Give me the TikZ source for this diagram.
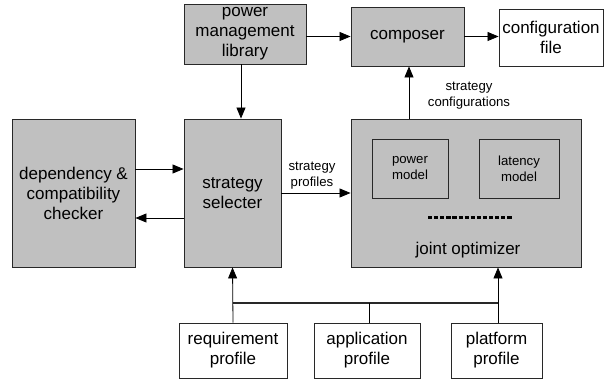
\documentclass[tikz,border=0pt]{standalone}
\usepackage{fontspec}
\setmainfont{Liberation Sans}
\usetikzlibrary{arrows.meta}
\definecolor{boxgray}{RGB}{192,192,192}
\definecolor{edgegray}{RGB}{40,40,40}
\tikzset{
  blk/.style={draw=edgegray, line width=0.9pt, fill=boxgray, inner sep=0pt, align=center, font=\fontsize{17}{20}\selectfont},
  wht/.style={blk, fill=white},
  inner/.style={blk, font=\fontsize{13.2}{16}\selectfont},
  lbl/.style={align=center, inner sep=0pt, font=\fontsize{13.2}{16}\selectfont},
  arr/.style={draw=black, line width=0.8pt, -{Triangle[length=11pt,width=9pt]}},
  ln/.style={draw=black, line width=0.8pt},
  bus/.style={draw=edgegray, line width=2pt},
}
\begin{document}
\begin{tikzpicture}[x=1pt,y=-1pt]
\useasboundingbox (0,0) rectangle (613,379);
% boxes (centre, size)
\node[blk, minimum width=122pt, minimum height=60pt] (pml) at (245,34) {power\\management\\library};
\node[blk, minimum width=113pt, minimum height=59pt] (comp) at (407.5,36.5) {composer};
\node[wht, minimum width=104pt, minimum height=57pt] (cfg) at (551,37.5) {configuration\\file};
\node[blk, minimum width=123pt, minimum height=148pt] (dep) at (73.5,193) {dependency \&\\compatibility\\checker};
\node[blk, minimum width=97pt, minimum height=148pt] (sel) at (232.5,193) {strategy\\selecter};
\node[blk, minimum width=230pt, minimum height=148pt] (opt) at (466,193) {};
\node[inner, minimum width=76pt, minimum height=59pt] (pm) at (410,168.5) {power\\model};
\node[inner, minimum width=80pt, minimum height=59pt] (lm) at (519,168.5) {latency\\model};
\node[inner sep=0pt, font=\fontsize{17}{20}\selectfont] (optt) at (468,250) {joint optimizer};
\coordinate (d1) at (428,218);
\coordinate (d2) at (512,218);
\draw[line width=3pt, dash pattern=on 4.2pt off 1.9pt] (d1) -- (d2);
\node[wht, minimum width=108pt, minimum height=55pt] (req) at (233,350.5) {requirement\\profile};
\node[wht, minimum width=106pt, minimum height=55pt] (app) at (367,350.5) {application\\profile};
\node[wht, minimum width=91pt, minimum height=55pt] (plat) at (496.5,350.5) {platform\\profile};
% labels
\node[lbl] (sp) at (312,176) {strategy\\profiles};
\node[lbl] (sc) at (469,96) {strategy\\configurations};
% connectors
\draw[arr] (pml.south -| 241,0) -- (sel.north -| 241,0);
\draw[arr] (pml.east |- comp.west) -- (comp.west);
\draw[arr] (comp.east) -- (comp.east -| cfg.west);
\draw[arr] (opt.north -| 409,0) -- (comp.south -| 409,0);
\draw[arr] (dep.east |- 0,169) -- (sel.west |- 0,169);
\draw[arr] (sel.west |- 0,218) -- (dep.east |- 0,218);
\draw[arr] (sel.east |- 0,193) -- (opt.west |- 0,193);
% bus
\coordinate (bl) at (233,303);
\coordinate (br) at (498,303);
\coordinate (bm) at (369,303);
\draw[bus] (bl) -- (br);
\draw[ln] (app.north -| bm) -- (bm);
\draw[arr] (req.north) -- (sel.south);
\draw[arr] (plat.north -| br) -- (opt.south -| br);
\end{tikzpicture}
\end{document}
